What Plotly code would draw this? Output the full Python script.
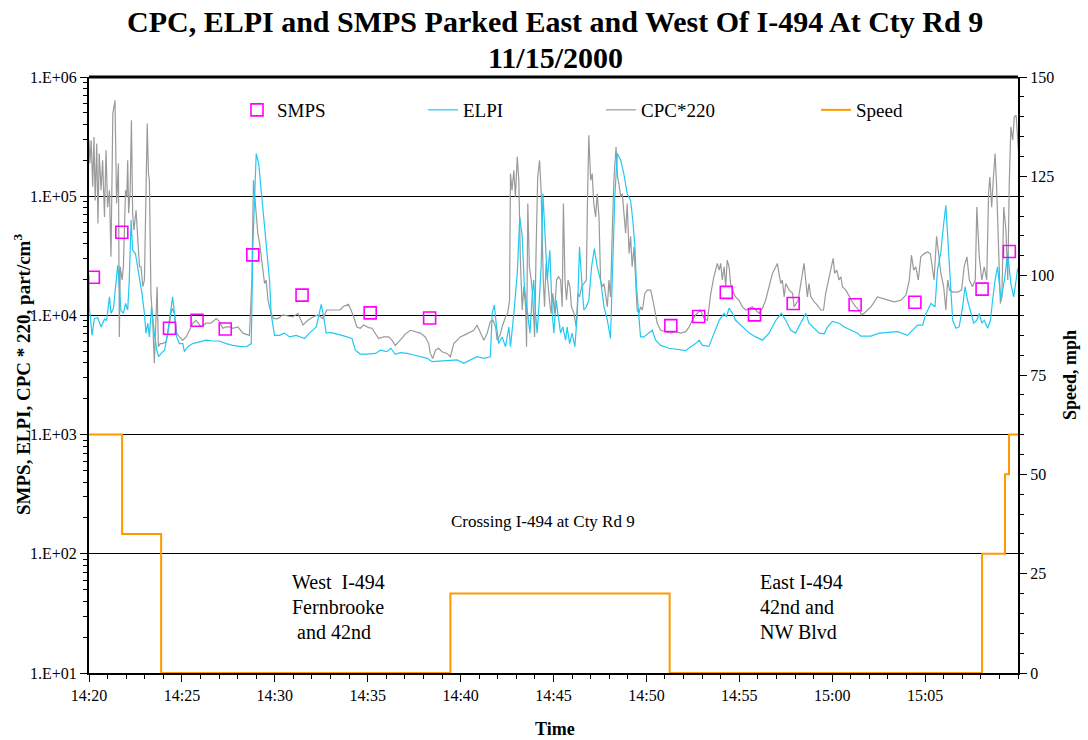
import pandas as pd
import plotly.graph_objects as go

# ---- data (time in seconds after 14:20:00 on 11/15/2000) ----
T0 = pd.Timestamp("2000-11-15 14:20:00")

SMPS_SEC = [14, 106, 260, 349, 440, 529, 688, 908, 1100, 1879, 1969, 2058,
            2149, 2274, 2474, 2667, 2884, 2972]
SMPS_VAL = [20900, 49900, 7800, 9100, 7700, 32200, 14800, 10500, 9500, 8200,
            9800, 15600, 10100, 12600, 12300, 12900, 16600, 34400]

ELPI_SEC = [
    0, 1, 10, 17, 28, 39, 50, 57, 66, 71, 79, 87, 93, 98, 103, 111, 118, 125,
    130, 136, 141, 150, 157, 165, 171, 179, 184, 190, 195, 202, 206, 211, 219,
    225, 233, 244, 254, 265, 270, 276, 283, 292, 303, 308, 319, 335, 357, 378,
    400, 421, 443, 464, 486, 508, 524, 529, 540, 548, 556, 561, 572, 583, 588,
    599, 615, 631, 648, 669, 696, 712, 734, 750, 758, 766,
    779, 801, 817, 833, 849, 860, 876, 898, 925, 941, 962, 975, 989, 1005,
    1027, 1049, 1070, 1092, 1108, 1135, 1162, 1189, 1210, 1232, 1253, 1275,
    1296, 1302, 1309, 1316, 1323, 1334, 1345, 1356, 1361, 1372, 1383, 1391,
    1399, 1406, 1415, 1424, 1431, 1436, 1442, 1447, 1453, 1460, 1466, 1471,
    1480, 1488, 1496, 1501, 1509, 1514, 1523,
    1530, 1539, 1544, 1552, 1560, 1569, 1577, 1584, 1591, 1598, 1606, 1614,
    1623, 1632, 1641, 1652, 1663, 1674, 1684, 1692, 1698, 1706, 1717, 1727,
    1738, 1749, 1756, 1763, 1768, 1774, 1781, 1792, 1808, 1819, 1830, 1846,
    1873, 1905, 1927, 1943, 1959, 1970, 1981, 2002, 2018, 2035, 2051, 2058,
    2067, 2078, 2088, 2110, 2132, 2153, 2175, 2196, 2218, 2236, 2250, 2266,
    2282,
    2298, 2315, 2325, 2342, 2358, 2374, 2385, 2401, 2422, 2439, 2460, 2482,
    2492, 2525, 2552, 2579, 2611, 2643, 2665, 2676, 2692, 2703, 2719, 2732,
    2740, 2751, 2760, 2767, 2775, 2781, 2789, 2800, 2810, 2821, 2829, 2837,
    2848, 2857, 2867, 2875, 2883, 2891, 2902, 2911, 2918, 2926, 2934, 2945,
    2956, 2967, 2977, 2986, 2994, 2999, 3008, 3015, 3026,
]
ELPI_VAL = [
    22000, 11800, 6800, 9400, 9600, 8000, 9300, 9100, 14300, 10400, 11500,
    19800, 26400, 17400, 11100, 10400, 12600, 11100, 19800, 63000, 35200,
    33000, 25600, 19800, 15300, 10400, 7100, 8600, 6600, 11800, 9100, 7100,
    5100, 4500, 4800, 5100, 7100, 11100, 14300, 10400, 6600, 5800, 5800, 4960,
    5460, 5800, 6000, 6200, 6100, 6100, 5800, 5600, 5500, 5460, 5800, 37600,
    228000, 188000, 112000, 81000, 46000, 19800, 10400, 6800, 6800, 7100,
    6600, 6800, 6400, 7100, 8000, 12400, 9700, 7100,
    7200, 7000, 6800, 6600, 6400, 5100, 4740, 4740, 4800, 5100, 4960, 5300,
    4710, 4870, 4800, 4650, 4500, 4360, 4090, 4140, 4230, 4230, 3960, 4230,
    4500, 4360, 4500, 10400, 12200, 8000, 5800, 6600, 5460, 8000, 5460, 10400,
    22500, 67000, 46000, 17400, 10400, 7100, 14300, 19800, 10400, 7100, 11800,
    25600, 105000, 52000, 19800, 35200, 10400, 7100, 13400, 10400, 7100,
    8000, 6200, 8000, 5800, 7100, 5460, 10400, 37600, 19800, 11100, 11800,
    13400, 25600, 36400, 25600, 19800, 11800, 9100, 6400, 33000, 99000,
    228000, 200000, 155000, 105000, 92000, 63000, 37600, 17400, 11100, 6600,
    6600, 7100, 7500, 6200, 5600, 5300, 5200, 5060, 5460, 5800, 6200, 5600,
    5500, 7100, 9100, 10400, 9700, 11500, 10400, 9100, 8000, 7100, 6600, 6200,
    7100, 9100, 10400, 9100, 7500, 7100,
    8600, 10400, 8600, 7800, 7100, 7000, 8000, 8900, 8600, 8000, 7500, 7100,
    6700, 6700, 7100, 7200, 7300, 6800, 7800, 8300, 8300, 10400, 12600, 11800,
    24000, 34100, 59000, 84000, 37600, 19800, 9100, 7800, 8000, 11800, 17400,
    13400, 10400, 8600, 9100, 10400, 8600, 9100, 7800, 9100, 13400, 19800,
    25600, 13400, 19800, 33000, 18500, 14300, 19800, 24800, 19800, 15300,
    22500,
]

CPC_SEC = [
    0, 3, 7, 12, 16, 20, 25, 29, 33, 39, 44, 50, 55, 60, 66, 71, 77, 84, 89,
    95, 98, 101, 107, 111, 118, 122, 125, 128, 133, 137, 141, 145, 152, 157,
    163, 168, 174, 179, 184, 188, 192, 195, 200, 206, 211, 217, 220, 224, 230,
    238, 249, 260, 268, 276, 283, 292, 303, 314, 324, 335, 346, 362, 378, 394,
    411, 421, 432, 443, 454, 464, 481, 497, 518, 526, 531, 538, 542, 545, 551,
    556, 561, 567, 572, 578, 583, 588, 596, 610, 626, 642, 658, 675, 691, 707,
    723, 739, 755,
    768, 785, 801, 811, 820, 828, 838, 846, 855, 865, 876, 887, 903, 914, 925,
    935, 952, 968, 978, 989, 1005, 1022, 1038, 1054, 1070, 1086, 1097, 1102,
    1110, 1119, 1129, 1140, 1156, 1167, 1178, 1189, 1199, 1210, 1226, 1243,
    1253, 1264, 1275, 1286, 1296, 1305, 1313, 1318, 1327, 1334, 1345, 1352,
    1358, 1361, 1366, 1372, 1377, 1383, 1388, 1393, 1399, 1404, 1410, 1413,
    1417, 1422, 1428, 1433, 1439, 1444, 1449, 1455, 1460, 1467, 1471, 1476,
    1482, 1487, 1492, 1498, 1503, 1510, 1516, 1523,
    1528, 1532, 1537, 1542, 1547, 1553, 1558, 1566, 1573, 1579, 1584, 1591,
    1598, 1606, 1610, 1614, 1620, 1625, 1630, 1636, 1641, 1647, 1652, 1657,
    1663, 1668, 1674, 1679, 1684, 1690, 1695, 1702, 1707, 1711, 1717, 1722,
    1727, 1733, 1738, 1744, 1749, 1754, 1760, 1765, 1770, 1776, 1781, 1787,
    1795, 1803, 1814, 1821, 1828, 1835, 1846, 1862, 1878, 1894, 1911, 1927,
    1938, 1948, 1959, 1975, 1986, 1997, 2008, 2018, 2029, 2035, 2040, 2045,
    2051, 2056, 2061, 2067, 2072, 2078, 2088, 2099, 2110, 2121, 2131, 2142,
    2153, 2164, 2175, 2185, 2196, 2207, 2218, 2223, 2228, 2234, 2239, 2245,
    2250, 2261, 2272,
    2277, 2290, 2298, 2304, 2309, 2315, 2320, 2325, 2331, 2342, 2352, 2363,
    2372, 2379, 2387, 2395, 2403, 2408, 2415, 2422, 2428, 2433, 2444, 2455,
    2465, 2476, 2487, 2495, 2503, 2514, 2525, 2536, 2546, 2562, 2579, 2600,
    2622, 2638, 2649, 2656, 2663, 2670, 2678, 2686, 2697, 2708, 2717, 2724,
    2729, 2737, 2746, 2751, 2760, 2767, 2773, 2779, 2789, 2805, 2818, 2826,
    2835, 2843, 2853, 2862, 2867, 2875, 2883, 2891, 2899, 2905, 2909, 2915,
    2920, 2926, 2931, 2936, 2943, 2948, 2954, 2961, 2967, 2972, 2977, 2983,
    2988, 2994, 2999, 3004, 3010, 3015, 3021, 3026,
]
CPC_VAL = [
    295000, 188000, 295000, 120000, 314000, 92000, 276000, 59000, 228000,
    112000, 200000, 67000, 243000, 81000, 112000, 31000, 493000, 637000,
    87000, 188000, 6600, 25600, 19800, 25600, 112000, 99000, 200000, 72000,
    112000, 434000, 72000, 52000, 76000, 49000, 25600, 25600, 17400, 19800,
    120000, 407000, 155000, 136000, 15300, 8600, 3960, 9100, 17400, 5460,
    5800, 5800, 6000, 8600, 11500, 10400, 7100, 6600, 6200, 6600, 7500, 8600,
    9100, 8000, 8600, 8600, 9400, 8900, 7800, 8000, 8000, 7800, 8000, 7100,
    6800, 19800, 136000, 81000, 72000, 49000, 40000, 31000, 25600, 18500,
    19800, 13400, 11800, 10400, 9400, 9400, 10100, 9900, 9700, 10400, 8300,
    9100, 9700, 10100, 9400,
    11100, 11100, 11100, 11100, 11800, 12000, 12400, 11100, 9700, 8000, 7800,
    8300, 7900, 7800, 7100, 6400, 6600, 6600, 6200, 5600, 6200, 7000, 7500,
    7300, 7100, 6600, 5800, 4800, 4360, 5100, 5300, 4960, 4800, 4500, 5800,
    6200, 6600, 6800, 7100, 7500, 8300, 7100, 6200, 7100, 8900, 9100, 8000,
    6200, 6800, 8000, 9700, 10400, 13400, 155000, 112000, 165000, 99000,
    214000, 136000, 29100, 11100, 17400, 11800, 5460, 87000, 25600, 19800,
    14300, 6600, 37600, 145000, 200000, 112000, 19800, 11800, 27300, 17400,
    13400, 10400, 15300, 10400, 19800, 21100, 19800,
    11800, 87000, 19800, 13400, 19800, 17400, 11800, 10400, 8000, 15300,
    14300, 17400, 18500, 19800, 99000, 325000, 136000, 155000, 87000, 67000,
    105000, 67000, 19800, 17400, 18500, 15300, 11800, 19800, 14300, 52000,
    136000, 259000, 145000, 128000, 99000, 105000, 72000, 49000, 87000, 33000,
    46000, 25600, 37600, 19800, 11100, 10400, 11800, 11100, 15300, 16300,
    16300, 13400, 10400, 8600, 7500, 7300, 7100, 7300, 7100, 7300, 8000, 9100,
    10100, 11100, 9400, 9100, 15300, 21100, 27300, 24000, 27300, 19800, 25600,
    17400, 29100, 25600, 18500, 16300, 14300, 13400, 11800, 11100, 11500,
    11800, 11100, 10400, 11500, 13400, 17400, 22500, 25600, 27300, 22500,
    18500, 19800, 14300, 18500, 16300, 15300,
    11800, 13400, 17400, 22500, 27300, 19800, 14300, 18500, 14300, 13000,
    12200, 11100, 11100, 15300, 19800, 24000, 30100, 22500, 24000, 19800,
    21100, 17400, 16300, 14300, 13000, 11800, 11100, 10100, 10400, 11100,
    11800, 13000, 14300, 13900, 13400, 13000, 13400, 14800, 19800, 32000,
    24000, 25600, 19800, 31000, 33000, 34100, 33000, 25600, 19800, 46000,
    31000, 22500, 17400, 11100, 19800, 16300, 15700, 15700, 16300, 25600,
    31000, 19800, 17400, 19800, 81000, 31000, 19800, 25600, 19800, 105000,
    145000, 81000, 136000, 228000, 120000, 37600, 12600, 14300, 81000, 52000,
    19800, 136000, 381000, 295000, 463000, 478000, 259000, 188000, 112000,
    165000, 188000, 165000,
]

SPEED_SEC = [0, 107, 233, 1167, 1875, 2884, 2958, 2971, 3000]
SPEED_MPH = [60, 35, 0, 20, 0, 30, 50, 60, 60]

Y_TICKS = [1e1, 1e2, 1e3, 1e4, 1e5, 1e6]
Y_TICK_TEXT = ["1.E+01", "1.E+02", "1.E+03", "1.E+04", "1.E+05", "1.E+06"]
X_TICK_MIN = [0, 5, 10, 15, 20, 25, 30, 35, 40, 45]
X_TICK_TEXT = ["14:20", "14:25", "14:30", "14:35", "14:40", "14:45",
               "14:50", "14:55", "15:00", "15:05"]

# ---- helpers ----
FONT = "Liberation Serif, Times New Roman, serif"
L, R, T, B = 89, 70, 77, 67
W, H = 1088, 740
PW, PH = W - L - R, H - T - B


def at(secs):
    return [T0 + pd.Timedelta(seconds=s) for s in secs]


def px(xp):
    return (xp - L) / PW


def py(yp):
    return (H - B - yp) / PH


fig = go.Figure()

fig.add_trace(go.Scatter(
    x=at(CPC_SEC), y=CPC_VAL, mode="lines", name="CPC*220",
    line=dict(color="#9A9A9A", width=1.2), legend="legend3"))
fig.add_trace(go.Scatter(
    x=at(ELPI_SEC), y=ELPI_VAL, mode="lines", name="ELPI",
    line=dict(color="#22C8F2", width=1.2), legend="legend2"))
fig.add_trace(go.Scatter(
    x=at(SMPS_SEC), y=SMPS_VAL, mode="markers", name="SMPS",
    marker=dict(symbol="square-open", size=12, color="#FF00FF",
                line=dict(width=1.6, color="#FF00FF")),
    legend="legend"))
fig.add_trace(go.Scatter(
    x=at(SPEED_SEC), y=SPEED_MPH, mode="lines", name="Speed",
    line=dict(color="#FF9900", width=2, shape="hv"),
    yaxis="y2", legend="legend4"))

minor_vals = [m * 10 ** e for e in range(1, 6) for m in range(2, 10)]


def legend_at(x_pix):
    return dict(x=px(x_pix), y=py(110), xanchor="left", yanchor="middle",
                orientation="h", bgcolor="rgba(0,0,0,0)", borderwidth=0,
                font=dict(family=FONT, size=19, color="black"), itemwidth=30)


fig.update_layout(
    width=W, height=H,
    margin=dict(l=L, r=R, t=T, b=B),
    paper_bgcolor="white", plot_bgcolor="white",
    font=dict(family=FONT, size=16, color="black"),
    showlegend=True,
    legend=legend_at(237),
    legend2=legend_at(423),
    legend3=legend_at(601),
    legend4=legend_at(816),
    xaxis=dict(
        type="date", range=[T0, T0 + pd.Timedelta(minutes=50)],
        tickvals=[T0 + pd.Timedelta(minutes=m) for m in X_TICK_MIN],
        ticktext=X_TICK_TEXT,
        ticks="outside", ticklen=7, tickwidth=1, tickcolor="black",
        showline=True, linecolor="black", linewidth=2,
        showgrid=False, zeroline=False,
        minor=dict(dtick=60000, tick0=T0, ticks="outside", ticklen=4,
                   tickcolor="black", showgrid=False),
        tickfont=dict(size=16),
    ),
    yaxis=dict(
        type="log", range=[1, 6],
        tickvals=Y_TICKS, ticktext=Y_TICK_TEXT,
        ticks="outside", ticklen=7, tickwidth=1, tickcolor="black",
        showline=True, linecolor="black", linewidth=2,
        showgrid=True, gridcolor="black", gridwidth=1, zeroline=False,
        minor=dict(tickvals=minor_vals, ticks="outside", ticklen=4,
                   tickcolor="black", showgrid=False),
        tickfont=dict(size=16),
    ),
    yaxis2=dict(
        overlaying="y", side="right", range=[0, 150],
        tick0=0, dtick=25,
        ticks="outside", ticklen=7, tickwidth=1, tickcolor="black",
        showline=True, linecolor="black", linewidth=2,
        showgrid=False, zeroline=False,
        minor=dict(dtick=5, ticks="outside", ticklen=4, tickcolor="black"),
        tickfont=dict(size=16),
    ),
    shapes=[dict(type="line", xref="paper", yref="paper",
                 x0=0, x1=1, y0=1, y1=1,
                 line=dict(color="black", width=3))],
)

annotations = [
    dict(text="<b>CPC, ELPI and SMPS Parked East and West Of I-494 At Cty Rd 9</b>",
         x=px(555), y=py(22), font=dict(size=30)),
    dict(text="<b>11/15/2000</b>", x=px(555), y=py(58), font=dict(size=30)),
    dict(text="<b>SMPS, ELPI, CPC * 220, part/cm<sup>3</sup></b>",
         x=px(22), y=py(375), textangle=-90, font=dict(size=19)),
    dict(text="<b>Speed, mph</b>", x=px(1070), y=py(375), textangle=-90,
         font=dict(size=18)),
    dict(text="<b>Time</b>", x=px(555), y=py(729), font=dict(size=18)),
    dict(text="Crossing I-494 at Cty Rd 9", x=px(543), y=py(521),
         font=dict(size=17)),
]
west = ["West\u00a0\u00a0I-494", "Fernbrooke", "\u00a0and 42nd"]
east = ["East I-494", "42nd and", "NW Blvd"]
for i, (w_line, e_line) in enumerate(zip(west, east)):
    yy = py(582 + 25 * i)
    annotations.append(dict(text=w_line, x=px(290), y=yy, xanchor="left",
                            font=dict(size=20)))
    annotations.append(dict(text=e_line, x=px(758), y=yy, xanchor="left",
                            font=dict(size=20)))

for a in annotations:
    a.setdefault("xref", "paper")
    a.setdefault("yref", "paper")
    a.setdefault("showarrow", False)
    a.setdefault("xanchor", "center")
    a.setdefault("yanchor", "middle")

fig.update_layout(annotations=annotations)

fig.write_html("out.html")
